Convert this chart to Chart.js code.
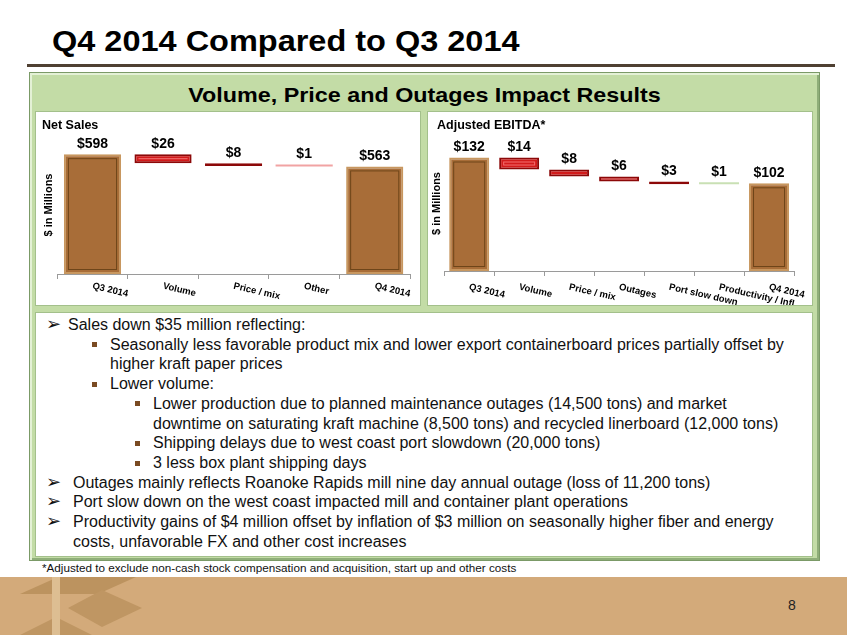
<!DOCTYPE html>
<html>
<head>
<meta charset="utf-8">
<script src="https://cdn.jsdelivr.net/npm/chart.js@4.4.1/dist/chart.umd.min.js"></script>
<style>
  body { margin: 0; width: 847px; height: 635px; position: relative; overflow: hidden; background: #fff;
         font-family: "Liberation Sans", Arial, sans-serif; color: #000; }
  .abs { position: absolute; }
  #title { left: 52px; top: 27px; font-size: 29px; line-height: 1; font-weight: bold; white-space: nowrap;
           transform: scaleX(1.12); transform-origin: left top; }
  #rule { left: 27px; top: 64px; width: 808px; height: 3px; background: #4f4032; }
  #frame { left: 29px; top: 72px; width: 789px; height: 487px; background: #c3dca6; border: 1px solid #7b9a67;
           box-shadow: inset 2px 2px 0 #e4f1d6, inset -2px -2px 0 #8fae79; }
  #header { left: 29px; top: 84px; width: 791px; text-align: center; font-size: 21px; line-height: 1; font-weight: bold;
            white-space: nowrap; transform: scaleX(1.11); }
  .panel { background: #fff; box-shadow: 0 0 0 1px #a3c08b; }
  .chartbox { position: absolute; }
  .chartname { position: absolute; font-size: 12.5px; font-weight: bold; line-height: 1; white-space: nowrap; }
  .ln { position: absolute; font-size: 16px; line-height: 20px; white-space: nowrap; color: #111; }
  .arrow { position: absolute; font-family: "DejaVu Sans", sans-serif; font-size: 18px; line-height: 20px; color: #111; }
  .sq { position: absolute; width: 5px; height: 5px; background: #7a4a22; }
  #note { left: 42px; top: 561px; font-size: 11.7px; line-height: 14px; white-space: nowrap; color: #111; }
  #footer { left: 0; top: 577px; width: 847px; height: 58px; background: #d3aa7a; }
  #pageno { left: 788px; top: 597px; font-size: 14px; line-height: 16px; color: #222; }
</style>
</head>
<body>
<div id="title" class="abs">Q4 2014 Compared to Q3 2014</div>
<div id="rule" class="abs"></div>
<div id="frame" class="abs"></div>
<div id="header" class="abs">Volume, Price and Outages Impact Results</div>

<div class="abs panel" style="left:36px;top:112px;width:384px;height:193px;"></div>
<div class="abs panel" style="left:428px;top:112px;width:384px;height:193px;"></div>
<div class="abs panel" style="left:36px;top:313px;width:776px;height:243px;"></div>

<div class="chartbox" style="left:36px;top:112px;width:384px;height:193px;"><canvas id="salesChart"></canvas></div>
<div class="chartbox" style="left:428px;top:112px;width:383px;height:193px;"><canvas id="ebitdaChart"></canvas></div>
<div class="chartname" style="left:42px;top:119px;">Net Sales</div>
<div class="chartname" style="left:437px;top:119px;">Adjusted EBITDA*</div>

<div class="arrow" style="left:46px;top:314px;">&#10146;</div>
<div class="ln" style="left:68px;top:315px;">Sales down $35 million reflecting:</div>
<div class="sq" style="left:92px;top:342px;"></div>
<div class="ln" style="left:110px;top:335px;">Seasonally less favorable product mix and lower export containerboard prices partially offset by</div>
<div class="ln" style="left:110px;top:354px;">higher kraft paper prices</div>
<div class="sq" style="left:92px;top:382px;"></div>
<div class="ln" style="left:110px;top:374px;">Lower volume:</div>
<div class="sq" style="left:135px;top:401px;"></div>
<div class="ln" style="left:153px;top:394px;">Lower production due to planned maintenance outages (14,500 tons) and market</div>
<div class="ln" style="left:153px;top:414px;">downtime on saturating kraft machine (8,500 tons) and recycled linerboard (12,000 tons)</div>
<div class="sq" style="left:135px;top:441px;"></div>
<div class="ln" style="left:153px;top:433px;">Shipping delays due to west coast port slowdown (20,000 tons)</div>
<div class="sq" style="left:135px;top:461px;"></div>
<div class="ln" style="left:153px;top:453px;">3 less box plant shipping days</div>
<div class="arrow" style="left:46px;top:472px;">&#10146;</div>
<div class="ln" style="left:73px;top:473px;">Outages mainly reflects Roanoke Rapids mill nine day annual outage (loss of 11,200 tons)</div>
<div class="arrow" style="left:46px;top:491px;">&#10146;</div>
<div class="ln" style="left:73px;top:492px;">Port slow down on the west coast impacted mill and container plant operations</div>
<div class="arrow" style="left:46px;top:511px;">&#10146;</div>
<div class="ln" style="left:73px;top:512px;">Productivity gains of $4 million offset by inflation of $3 million on seasonally higher fiber and energy</div>
<div class="ln" style="left:73px;top:532px;">costs, unfavorable FX and other cost increases</div>

<div id="note" class="abs">*Adjusted to exclude non-cash stock compensation and acquisition, start up and other costs</div>
<div id="footer" class="abs"></div>
<svg class="abs" style="left:0;top:577px;" width="160" height="58" viewBox="0 577 160 58">
  <polygon points="20,594 58,577 136,577 98,594" fill="#bc935f"/>
  <polygon points="68,608 102,590 142,608 102,627" fill="#bf9663"/>
  <polygon points="20,635 56,617 92,635" fill="#bf9663"/>
  <rect x="52" y="577" width="8" height="58" fill="#ddbe92"/>
</svg>
<div id="pageno" class="abs">8</div>

<script>
const salesCategories = ['Q3 2014', 'Volume', 'Price / mix', 'Other', 'Q4 2014'];
const salesValues = [598, -26, -8, -1, 563];
const salesIsTotal = [true, false, false, false, true];
const salesAxisMin = 255;
const salesAxisMax = 650;

const ebitdaCategories = ['Q3 2014', 'Volume', 'Price / mix', 'Outages', 'Port slow down', 'Productivity / Infl', 'Q4 2014'];
const ebitdaValues = [132, -14, -8, -6, -3, 1, 102];
const ebitdaIsTotal = [true, false, false, false, false, false, true];
const ebitdaAxisMin = 0;
const ebitdaAxisMax = 157;

// bar looks
const BAR_STYLE = {
    total: {fill: '#a86d38', edge: '#c8975f', inner: '#6e4519'},
    down: {fill: '#d21b1b', edge: '#8c0808', inner: '#f47070'},
    faintDown: {fill: '#f1a3a3', edge: '#f1a3a3', inner: null},
    faintUp: {fill: '#c9e0b4', edge: '#c9e0b4', inner: null}
};
const salesKinds = ['total', 'down', 'down', 'faintDown', 'total'];
const ebitdaKinds = ['total', 'down', 'down', 'down', 'down', 'faintUp', 'total'];

Chart.defaults.font.family = '"Liberation Sans", Arial, sans-serif';
Chart.defaults.color = '#000';

function waterfall(values, isTotal, floor) {
    let run = 0;
    return values.map((v, i) => {
        if (isTotal[i]) {
            run = v;
            return [floor, v];
        }
        let from = run;
        run += v;
        return [from, run];
    });
}

// inner bevel line, value labels and slanted category labels
const barDecor = {
    id: 'barDecor',
    afterDatasetsDraw(chart, args, opts) {
        let ctx = chart.ctx;
        let meta = chart.getDatasetMeta(0);
        let ds = chart.data.datasets[0];

        ctx.save();
        meta.data.forEach((bar, i) => {
            let p = bar.getProps(['x', 'y', 'base', 'width'], true);
            let top = Math.min(p.y, p.base);
            let bottom = Math.max(p.y, p.base);
            let inner = BAR_STYLE[ds.kinds[i]].inner;

            if (inner && bottom - top > 8) {
                ctx.strokeStyle = inner;
                ctx.lineWidth = 1;
                ctx.strokeRect(p.x - p.width / 2 + 4.5, top + 4.5, p.width - 9, bottom - top - 9);
            }

            ctx.fillStyle = '#000';
            ctx.font = 'bold 14px "Liberation Sans", Arial';
            ctx.textAlign = 'center';
            ctx.textBaseline = 'middle';
            ctx.fillText('$' + Math.abs(ds.rawValues[i]), p.x, top - 10);
        });

        let xs = chart.scales.x;
        ctx.font = 'bold 9.5px "Liberation Sans", Arial';
        ctx.textAlign = 'left';
        ctx.textBaseline = 'middle';
        chart.data.labels.forEach((lab, i) => {
            ctx.save();
            ctx.translate(xs.getPixelForValue(i), xs.top + opts.labelDrop);
            ctx.rotate(opts.angle);
            ctx.fillText(lab, 0, 0);
            ctx.restore();
        });
        ctx.restore();
    }
};

function makeWaterfall(canvasId, cats, values, isTotal, kinds, yMin, yMax, barPct, pad, titlePad, labelDrop) {
    let ctx = document.getElementById(canvasId).getContext('2d');

    return new Chart(ctx, {
        type: 'bar',
        data: {
            labels: cats,
            datasets: [{
                data: waterfall(values, isTotal, yMin),
                rawValues: values,
                kinds: kinds,
                backgroundColor: kinds.map(k => BAR_STYLE[k].fill),
                borderColor: kinds.map(k => BAR_STYLE[k].edge),
                borderWidth: kinds.map(k => BAR_STYLE[k].inner ? 2 : 0),
                borderSkipped: false,
                minBarLength: 2,
                barPercentage: barPct,
                categoryPercentage: 1.0
            }]
        },
        options: {
            responsive: true,
            maintainAspectRatio: false,
            animation: false,
            layout: {padding: pad},
            plugins: {
                legend: {display: false},
                tooltip: {enabled: false},
                barDecor: {labelDrop: labelDrop, angle: 0.227}
            },
            scales: {
                x: {
                    ticks: {display: false},
                    grid: {display: true, drawOnChartArea: false, drawTicks: true, tickLength: 5, color: '#9a9a9a', offset: true},
                    border: {display: true, color: '#9a9a9a'}
                },
                y: {
                    min: yMin,
                    max: yMax,
                    ticks: {display: false},
                    grid: {display: false, drawTicks: false},
                    border: {display: false},
                    title: {
                        display: true,
                        text: '$ in Millions',
                        font: {size: 11, weight: 'bold'},
                        padding: titlePad
                    }
                }
            }
        },
        plugins: [barDecor]
    });
}

makeWaterfall('salesChart', salesCategories, salesValues, salesIsTotal, salesKinds,
    salesAxisMin, salesAxisMax, 0.81, {top: 24, left: 0, right: 10, bottom: 26}, {top: 6, bottom: 2}, 12);
makeWaterfall('ebitdaChart', ebitdaCategories, ebitdaValues, ebitdaIsTotal, ebitdaKinds,
    ebitdaAxisMin, ebitdaAxisMax, 0.8, {top: 24, left: 0, right: 17, bottom: 29}, {top: 2, bottom: 1}, 16);
</script>
</body>
</html>
